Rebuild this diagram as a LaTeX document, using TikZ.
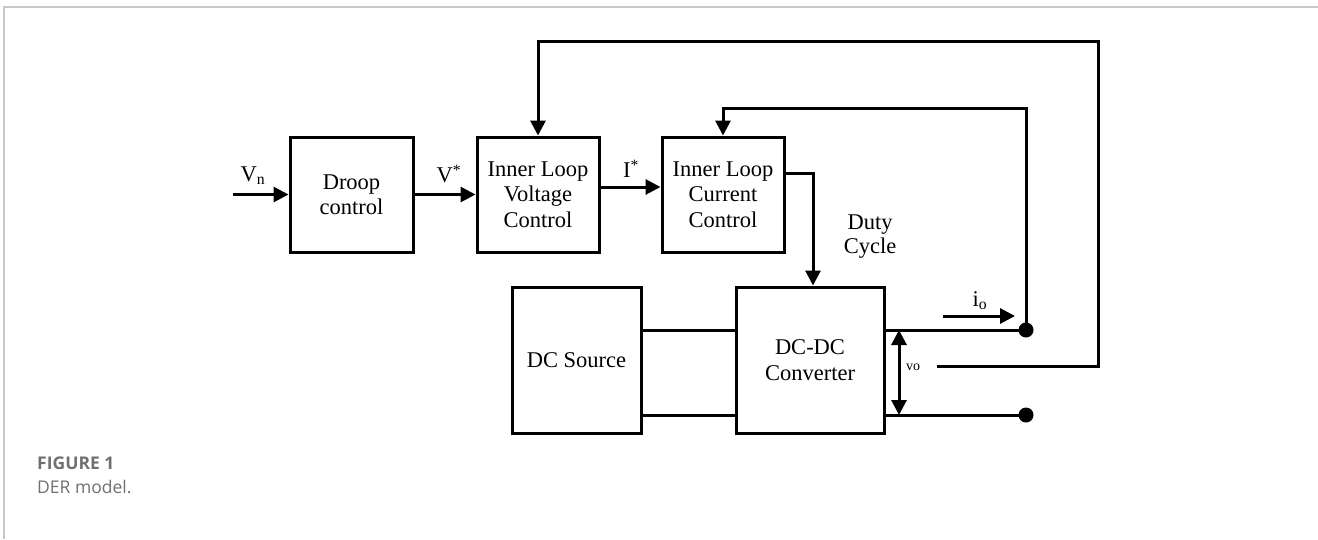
\documentclass[tikz,border=0pt]{standalone}
\usepackage{fontspec}
\setmainfont{Liberation Serif}
\newfontfamily\capfont{Open Sans}
\usetikzlibrary{arrows.meta,calc}
\tikzset{
  blk/.style={draw, line width=3pt, minimum width=123pt, minimum height=115pt,
    align=center, inner sep=0pt, font=\fontsize{22.5}{25.5}\selectfont},
  wire/.style={line width=3pt},
  sig/.style={line width=3pt, -{Triangle[length=15pt,width=15pt]}},
  lbl/.style={font=\fontsize{22.5}{24}\selectfont, inner sep=0pt},
  term/.style={circle, fill=black, minimum size=15pt, inner sep=0pt},
  frame/.style={draw=black!22, line width=1.5pt},
  captext/.style={anchor=west, inner sep=0pt, text=black!56}
}
\begin{document}
\begin{tikzpicture}[x=1pt,y=-1pt]
\useasboundingbox (0,0) rectangle (1318,539);
% page frame
\draw[frame] (4,539) -- (4,7) -- (1318,7);

% control blocks
\node[blk] (droop) at (351.5,194.5) {Droop\\control};
\node[blk, minimum width=122pt] (volt) at (538,194.5) {Inner Loop\\Voltage\\Control};
\node[blk, minimum width=122pt] (curr) at (723,194.5) {Inner Loop\\Current\\Control};

% power stage
\node[blk, minimum width=129pt, minimum height=146pt] (src) at (576.5,360) {DC Source};
\node[blk, minimum width=148pt, minimum height=146pt] (conv) at (810,360) {DC-DC\\Converter};

% output terminals
\node[term] (tp) at (1026,330) {};
\node[term] (tn) at (1026,415) {};

% helper points
\coordinate (vin) at (233,194.5);
\coordinate (iy) at (0,187);
\coordinate (dy) at (813,173);
\coordinate (top) at (0,330);
\coordinate (bot) at (0,415);
\coordinate (vfb) at (937,366);
\coordinate (vfr) at (1098,41);
\coordinate (ifb) at (1026,108);
\coordinate (vs1) at (899,330);
\coordinate (vs2) at (899,415);
\coordinate (ia) at (943,316);
\coordinate (ib) at (1015,316);

% forward path
\draw[sig] (vin) -- (droop.west);
\node[lbl] at (253,176) {V\textsubscript{n}};
\draw[sig] (droop.east) -- (volt.west);
\node[lbl] at (449,174) {V\textsuperscript{*}};
\draw[sig] (volt.east |- iy) -- (curr.west |- iy);
\node[lbl] at (631,169) {I\textsuperscript{*}};
\draw[sig] (curr.east |- dy) -- (dy) -- (dy |- conv.north);
\node[lbl, align=center] at (870,237) {Duty\\Cycle};

% DC link
\draw[wire] (src.east |- top) -- (conv.west |- top);
\draw[wire] (src.east |- bot) -- (conv.west |- bot);

% converter output
\draw[wire] (conv.east |- top) -- (tp.center);
\draw[wire] (conv.east |- bot) -- (tn.center);
\draw[line width=3pt, {Triangle[length=15pt,width=15pt]}-{Triangle[length=15pt,width=15pt]}] (vs1) -- (vs2);
\node[font=\fontsize{14}{16}\selectfont, inner sep=0pt] at (913,367) {vo};
\draw[sig] (ia) -- (ib);
\node[lbl] at (980,301) {i\textsubscript{o}};

% feedback loops
\draw[sig] (vfb) -- (vfr |- vfb) -- (vfr) -- (volt.north |- vfr) -- (volt.north);
\draw[sig] (tp.center) -- (ifb) -- (curr.north |- ifb) -- (curr.north);

% caption
\node[captext, font=\capfont\bfseries\fontsize{17.5}{21}\selectfont] (cap1) at (37,463) {FIGURE 1};
\node[captext, font=\capfont\fontsize{17.5}{21}\selectfont] (cap2) at (37,487) {DER model.};
\end{tikzpicture}
\end{document}
